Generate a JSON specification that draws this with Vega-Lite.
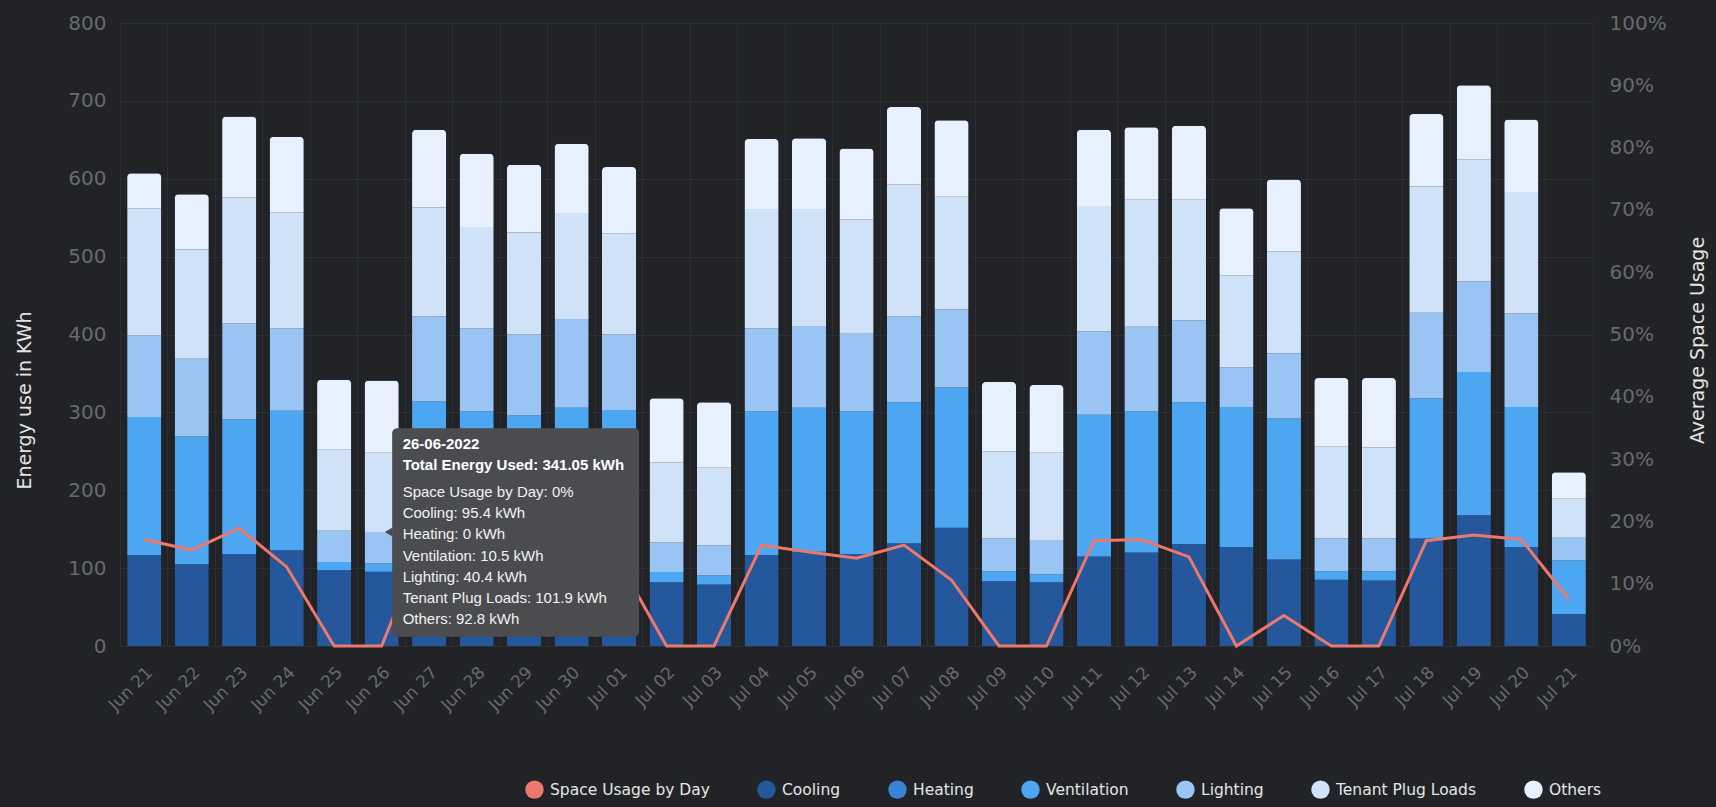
{
  "$schema": "https://vega.github.io/schema/vega-lite/v6.json",
  "width": 1473,
  "height": 623,
  "autosize": {"type": "none"},
  "padding": {"left": 120, "top": 23, "right": 123, "bottom": 161},
  "background": "#212327",
  "config": {
    "view": {"stroke": "#2b2e33", "strokeWidth": 1},
    "axis": {
      "labelFont": "DejaVu Sans",
      "titleFont": "DejaVu Sans",
      "gridColor": "#2b2e33",
      "domain": false,
      "ticks": false,
      "labelColor": "#686a6f",
      "titleColor": "#e4e4e4",
      "titleFontWeight": "normal"
    }
  },
  "datasets": {
    "days": [
      {"date": "Jun 21", "Cooling": 117, "Heating": 0, "Ventilation": 177, "Lighting": 105, "Tenant Plug Loads": 163, "Others": 45, "usage": 17.1},
      {"date": "Jun 22", "Cooling": 105, "Heating": 0, "Ventilation": 164, "Lighting": 100, "Tenant Plug Loads": 140, "Others": 71, "usage": 15.4},
      {"date": "Jun 23", "Cooling": 118, "Heating": 0, "Ventilation": 173, "Lighting": 123, "Tenant Plug Loads": 162, "Others": 104, "usage": 18.9},
      {"date": "Jun 24", "Cooling": 123, "Heating": 0, "Ventilation": 179, "Lighting": 106, "Tenant Plug Loads": 149, "Others": 97, "usage": 12.7},
      {"date": "Jun 25", "Cooling": 97.6, "Heating": 0, "Ventilation": 10.4, "Lighting": 40, "Tenant Plug Loads": 104, "Others": 90, "usage": 0},
      {"date": "Jun 26", "Cooling": 95.4, "Heating": 0, "Ventilation": 10.5, "Lighting": 40.4, "Tenant Plug Loads": 101.9, "Others": 92.8, "usage": 0},
      {"date": "Jun 27", "Cooling": 127, "Heating": 0, "Ventilation": 187, "Lighting": 109, "Tenant Plug Loads": 140, "Others": 100, "usage": 19},
      {"date": "Jun 28", "Cooling": 122, "Heating": 0, "Ventilation": 179, "Lighting": 107, "Tenant Plug Loads": 130, "Others": 94, "usage": 16},
      {"date": "Jun 29", "Cooling": 118, "Heating": 0, "Ventilation": 178, "Lighting": 104, "Tenant Plug Loads": 131, "Others": 87, "usage": 16},
      {"date": "Jun 30", "Cooling": 124, "Heating": 0, "Ventilation": 182, "Lighting": 114, "Tenant Plug Loads": 136, "Others": 89, "usage": 17},
      {"date": "Jul 01", "Cooling": 120, "Heating": 0, "Ventilation": 183, "Lighting": 97, "Tenant Plug Loads": 130, "Others": 85, "usage": 13.5},
      {"date": "Jul 02", "Cooling": 82, "Heating": 0, "Ventilation": 13, "Lighting": 38, "Tenant Plug Loads": 103, "Others": 82, "usage": 0},
      {"date": "Jul 03", "Cooling": 79, "Heating": 0, "Ventilation": 12, "Lighting": 38, "Tenant Plug Loads": 100, "Others": 84, "usage": 0},
      {"date": "Jul 04", "Cooling": 117, "Heating": 0, "Ventilation": 184, "Lighting": 107, "Tenant Plug Loads": 153, "Others": 90, "usage": 16.2},
      {"date": "Jul 05", "Cooling": 121, "Heating": 0, "Ventilation": 185, "Lighting": 105, "Tenant Plug Loads": 150, "Others": 91, "usage": 15.1},
      {"date": "Jul 06", "Cooling": 118, "Heating": 0, "Ventilation": 183, "Lighting": 100, "Tenant Plug Loads": 147, "Others": 91, "usage": 14.1},
      {"date": "Jul 07", "Cooling": 132, "Heating": 0, "Ventilation": 181, "Lighting": 110, "Tenant Plug Loads": 170, "Others": 99, "usage": 16.2},
      {"date": "Jul 08", "Cooling": 152, "Heating": 0, "Ventilation": 180, "Lighting": 100, "Tenant Plug Loads": 145, "Others": 98, "usage": 10.6},
      {"date": "Jul 09", "Cooling": 83, "Heating": 0, "Ventilation": 13, "Lighting": 42, "Tenant Plug Loads": 112, "Others": 89, "usage": 0},
      {"date": "Jul 10", "Cooling": 82, "Heating": 0, "Ventilation": 10, "Lighting": 43, "Tenant Plug Loads": 113, "Others": 87, "usage": 0},
      {"date": "Jul 11", "Cooling": 115, "Heating": 0, "Ventilation": 182, "Lighting": 107, "Tenant Plug Loads": 161, "Others": 98, "usage": 16.9},
      {"date": "Jul 12", "Cooling": 120, "Heating": 0, "Ventilation": 181, "Lighting": 109, "Tenant Plug Loads": 163, "Others": 93, "usage": 17.1},
      {"date": "Jul 13", "Cooling": 131, "Heating": 0, "Ventilation": 182, "Lighting": 105, "Tenant Plug Loads": 155, "Others": 95, "usage": 14.3},
      {"date": "Jul 14", "Cooling": 127, "Heating": 0, "Ventilation": 180, "Lighting": 51, "Tenant Plug Loads": 118, "Others": 86, "usage": 0},
      {"date": "Jul 15", "Cooling": 111, "Heating": 0, "Ventilation": 181, "Lighting": 84, "Tenant Plug Loads": 131, "Others": 92, "usage": 4.9},
      {"date": "Jul 16", "Cooling": 85, "Heating": 0, "Ventilation": 11, "Lighting": 42, "Tenant Plug Loads": 118, "Others": 88, "usage": 0},
      {"date": "Jul 17", "Cooling": 84, "Heating": 0, "Ventilation": 12, "Lighting": 42, "Tenant Plug Loads": 117, "Others": 89, "usage": 0},
      {"date": "Jul 18", "Cooling": 138, "Heating": 0, "Ventilation": 180, "Lighting": 110, "Tenant Plug Loads": 162, "Others": 93, "usage": 16.9},
      {"date": "Jul 19", "Cooling": 168, "Heating": 0, "Ventilation": 184, "Lighting": 116, "Tenant Plug Loads": 157, "Others": 95, "usage": 17.8},
      {"date": "Jul 20", "Cooling": 127, "Heating": 0, "Ventilation": 180, "Lighting": 120, "Tenant Plug Loads": 156, "Others": 93, "usage": 17.1},
      {"date": "Jul 21", "Cooling": 41, "Heating": 0, "Ventilation": 69, "Lighting": 29, "Tenant Plug Loads": 50, "Others": 34, "usage": 7.5}
    ],
    "tip": [
      {"date": "Jun 26", "head": "26-06-2022\nTotal Energy Used: 341.05 kWh", "body": "Space Usage by Day: 0%\nCooling: 95.4 kWh\nHeating: 0 kWh\nVentilation: 10.5 kWh\nLighting: 40.4 kWh\nTenant Plug Loads: 101.9 kWh\nOthers: 92.8 kWh"}
    ]
  },
  "resolve": {"scale": {"y": "independent"}, "axis": {"x": "independent", "y": "independent"}},
  "layer": [
    {
      "data": {"name": "days"},
      "transform": [
        {"fold": ["Cooling", "Heating", "Ventilation", "Lighting", "Tenant Plug Loads", "Others"], "as": ["category", "kwh"]},
        {"lookup": "category", "from": {"data": {"values": [
          {"category": "Cooling", "rank": 1},
          {"category": "Heating", "rank": 2},
          {"category": "Ventilation", "rank": 3},
          {"category": "Lighting", "rank": 4},
          {"category": "Tenant Plug Loads", "rank": 5},
          {"category": "Others", "rank": 6}
        ]}, "key": "category", "fields": ["rank"]}}
      ],
      "mark": {"type": "bar", "cornerRadiusTopLeft": 4, "cornerRadiusTopRight": 4},
      "encoding": {
        "x": {
          "field": "date", "type": "ordinal", "sort": null,
          "scale": {"paddingInner": 0.28, "paddingOuter": 0.15},
          "axis": {"orient": "bottom", "grid": true, "bandPosition": -0.1945, "labels": false, "ticks": false, "domain": false, "title": null}
        },
        "y": {
          "field": "kwh", "type": "quantitative", "stack": "zero",
          "scale": {"domain": [0, 800]},
          "axis": {
            "orient": "left", "values": [0, 100, 200, 300, 400, 500, 600, 700, 800],
            "labelFontSize": 20, "labelPadding": 14, "grid": true,
            "title": "Energy use in KWh", "titleFontSize": 19,
            "titleX": -96, "titleY": 377, "titleBaseline": "middle", "titleAngle": -90
          }
        },
        "order": {"field": "rank", "type": "quantitative", "sort": "ascending"},
        "color": {
          "field": "category", "type": "nominal",
          "sort": ["Space Usage by Day", "Cooling", "Heating", "Ventilation", "Lighting", "Tenant Plug Loads", "Others"],
          "scale": {
            "domain": ["Space Usage by Day", "Cooling", "Heating", "Ventilation", "Lighting", "Tenant Plug Loads", "Others"],
            "range": ["#ef786c", "#24579c", "#3a84d8", "#4ca6f2", "#99c4f4", "#cfe2f8", "#e7f1fd"]
          },
          "legend": {
            "orient": "none", "legendX": 405, "legendY": 757, "direction": "horizontal",
            "title": null, "symbolType": "circle", "symbolSize": 340, "symbolStrokeWidth": 0,
            "labelFont": "DejaVu Sans", "labelFontSize": 15.5, "labelColor": "#e6e6e6",
            "columnPadding": 47, "labelOffset": 6, "labelLimit": 300
          }
        }
      }
    },
    {
      "data": {"name": "days"},
      "mark": {"type": "line", "strokeWidth": 3},
      "encoding": {
        "x": {
          "field": "date", "type": "ordinal", "sort": null,
          "axis": {"orient": "bottom", "grid": false, "labelAngle": -45, "labelFontSize": 17, "labelPadding": 18, "title": null}
        },
        "y": {
          "field": "usage", "type": "quantitative",
          "scale": {"domain": [0, 100]},
          "axis": {
            "orient": "right", "values": [0, 10, 20, 30, 40, 50, 60, 70, 80, 90, 100],
            "labelExpr": "datum.value + '%'", "labelFontSize": 20, "labelPadding": 16, "grid": false,
            "title": "Average Space Usage", "titleFontSize": 19,
            "titleX": 104, "titleY": 317, "titleBaseline": "middle", "titleAngle": -90
          }
        },
        "color": {"datum": "Space Usage by Day"}
      }
    },
    {
      "data": {"name": "tip"},
      "mark": {"type": "bar", "width": 247, "xOffset": 134, "cornerRadius": 5, "color": "#4a4c4f"},
      "encoding": {
        "x": {"field": "date", "type": "ordinal", "sort": null, "axis": null},
        "y": {"datum": 11.9, "type": "quantitative", "scale": {"domain": [0, 800]}, "axis": null},
        "y2": {"datum": 279.5}
      }
    },
    {
      "data": {"name": "tip"},
      "mark": {"type": "point", "shape": "triangle-left", "size": 80, "filled": true, "opacity": 1, "color": "#4a4c4f", "xOffset": 7},
      "encoding": {
        "x": {"field": "date", "type": "ordinal", "sort": null, "axis": null},
        "y": {"datum": 146.4, "type": "quantitative", "scale": {"domain": [0, 800]}, "axis": null}
      }
    },
    {
      "data": {"name": "tip"},
      "mark": {"type": "text", "align": "left", "baseline": "alphabetic", "dx": 21, "lineBreak": "\n", "lineHeight": 21.7, "font": "Liberation Sans", "fontSize": 15, "fontWeight": "bold", "color": "#ffffff"},
      "encoding": {
        "x": {"field": "date", "type": "ordinal", "sort": null, "axis": null},
        "y": {"datum": 253.4, "type": "quantitative", "scale": {"domain": [0, 800]}, "axis": null},
        "text": {"field": "head"}
      }
    },
    {
      "data": {"name": "tip"},
      "mark": {"type": "text", "align": "left", "baseline": "alphabetic", "dx": 21, "lineBreak": "\n", "lineHeight": 21.2, "font": "Liberation Sans", "fontSize": 15, "color": "#f2f2f2"},
      "encoding": {
        "x": {"field": "date", "type": "ordinal", "sort": null, "axis": null},
        "y": {"datum": 191.2, "type": "quantitative", "scale": {"domain": [0, 800]}, "axis": null},
        "text": {"field": "body"}
      }
    }
  ]
}
